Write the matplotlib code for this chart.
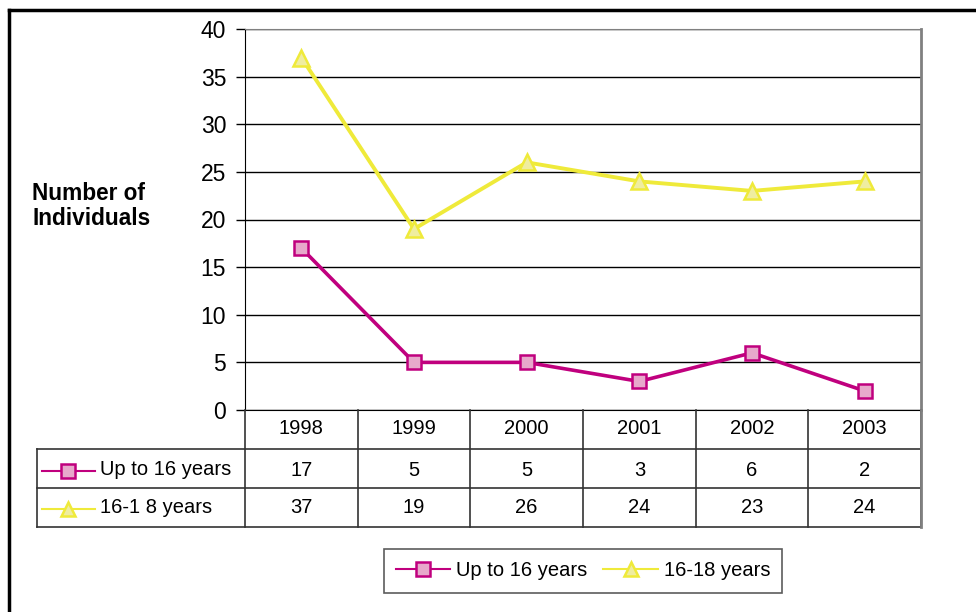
import matplotlib
matplotlib.use("Agg")
import matplotlib.pyplot as plt
from matplotlib.lines import Line2D

plt.rcParams['font.family'] = ['Liberation Sans', 'DejaVu Sans']

years = ['1998', '1999', '2000', '2001', '2002', '2003']
up_to_16 = [17, 5, 5, 3, 6, 2]
age_16_18 = [37, 19, 26, 24, 23, 24]
table_labels = ['Up to 16 years', '16-1 8 years']
legend_labels = ['Up to 16 years', '16-18 years']
yticks = [0, 5, 10, 15, 20, 25, 30, 35, 40]

pink = '#C0007E'
pink_fill = '#E7A9CB'
yellow = '#EFEA3A'
yellow_fill = '#EFEDA0'

W, H = 976, 612
fig = plt.figure(figsize=(W / 100, H / 100), dpi=100)

def fx(px):
    return px / W

def fy(py):
    return 1 - py / H

ax = fig.add_axes([fx(245), fy(410), fx(921) - fx(245), fy(29) - fy(410)])
x = list(range(1, len(years) + 1))
style1 = dict(color=pink, lw=2.6, marker='s', ms=10.5, mfc=pink_fill, mec=pink, mew=1.8)
style2 = dict(color=yellow, lw=2.8, marker='^', ms=11.5, mfc=yellow_fill, mec=yellow, mew=1.8)
l1, = ax.plot(x, up_to_16, zorder=4, **style1)
l2, = ax.plot(x, age_16_18, zorder=3, **style2)
ax.set_xlim(0.5, len(years) + 0.5)
ax.set_ylim(0, 40)
ax.set_yticks(yticks)
ax.set_yticklabels([str(v) for v in yticks], fontsize=16.5)
ax.set_xticks([])
ax.tick_params(axis='y', length=6.5, width=1, pad=7, color='black')
for v in yticks:
    ax.axhline(v, color='black', lw=1, zorder=1)
ax.spines['top'].set_color('#808080')
ax.spines['right'].set_color('#808080')
ax.spines['right'].set_linewidth(2)
ax.spines['left'].set_color('black')
ax.spines['bottom'].set_color('black')

fig.text(fx(32), fy(206), 'Number of\nIndividuals', fontsize=16.3, fontweight='bold',
         ha='left', va='center', linespacing=1.1)

# Data table
nc = len(years)
colw_px = (921 - 245) / nc
left_data = 0.5 - (245 - 37) / colw_px
tab = fig.add_axes([fx(37), fy(527), fx(921) - fx(37), fy(410) - fy(527)])
tab.set_xlim(left_data, nc + 0.5)
tab.set_ylim(3, 0)
tab.axis('off')
lc = '#333333'
for i in range(nc + 1):
    xb = 0.5 + i
    tab.plot([xb, xb], [0, 3], color=lc, lw=1.2, clip_on=False)
tab.plot([left_data, left_data], [1, 3], color=lc, lw=1.2, clip_on=False)
for yb in [1, 2, 3]:
    tab.plot([left_data, nc + 0.5], [yb, yb], color=lc, lw=1.2, clip_on=False)
tab.plot([nc + 0.5, nc + 0.5], [0, 3], color='#808080', lw=2, clip_on=False)
fs = 14.5
for i, yr in enumerate(years):
    tab.text(i + 1, 0.47, yr, ha='center', va='center', fontsize=fs)
    tab.text(i + 1, 1.56, str(up_to_16[i]), ha='center', va='center', fontsize=fs)
    tab.text(i + 1, 2.49, str(age_16_18[i]), ha='center', va='center', fontsize=fs)
kx0 = left_data + (42 - 37) / colw_px
kx1 = left_data + (95 - 37) / colw_px
tx = left_data + (100 - 37) / colw_px
for row, (st, lab) in enumerate(zip([style1, style2], table_labels)):
    yc = 1.56 + row * 0.98
    tab.plot([kx0, kx1], [yc, yc], color=st['color'], lw=1.5, clip_on=False)
    s = dict(st)
    s['ms'] = s['ms'] - 1
    s.pop('lw')
    tab.plot([(kx0 + kx1) / 2], [yc], linestyle='none', clip_on=False, **s)
    tab.text(tx, yc - 0.03, lab, ha='left', va='center', fontsize=fs)

h1 = Line2D([], [], color=pink, lw=1.5, marker='s', ms=9.5, mfc=pink_fill, mec=pink, mew=1.8)
h2 = Line2D([], [], color=yellow, lw=1.5, marker='^', ms=10.5, mfc=yellow_fill, mec=yellow, mew=1.8)
leg = fig.legend([h1, h2], legend_labels, loc='center', bbox_to_anchor=(fx(583), fy(571)),
                 ncol=2, fontsize=fs, frameon=True, fancybox=False, edgecolor='#333333',
                 handlelength=2.7, handletextpad=0.3, columnspacing=0.8, borderpad=0.6,
                 borderaxespad=0)
leg.get_frame().set_linewidth(1.2)

fig.add_artist(Line2D([fx(9), fx(9)], [0, fy(10)], color='black', lw=2.5))
fig.add_artist(Line2D([fx(9), 1], [fy(10), fy(10)], color='black', lw=2.5))

fig.savefig('out.png', dpi=100)
